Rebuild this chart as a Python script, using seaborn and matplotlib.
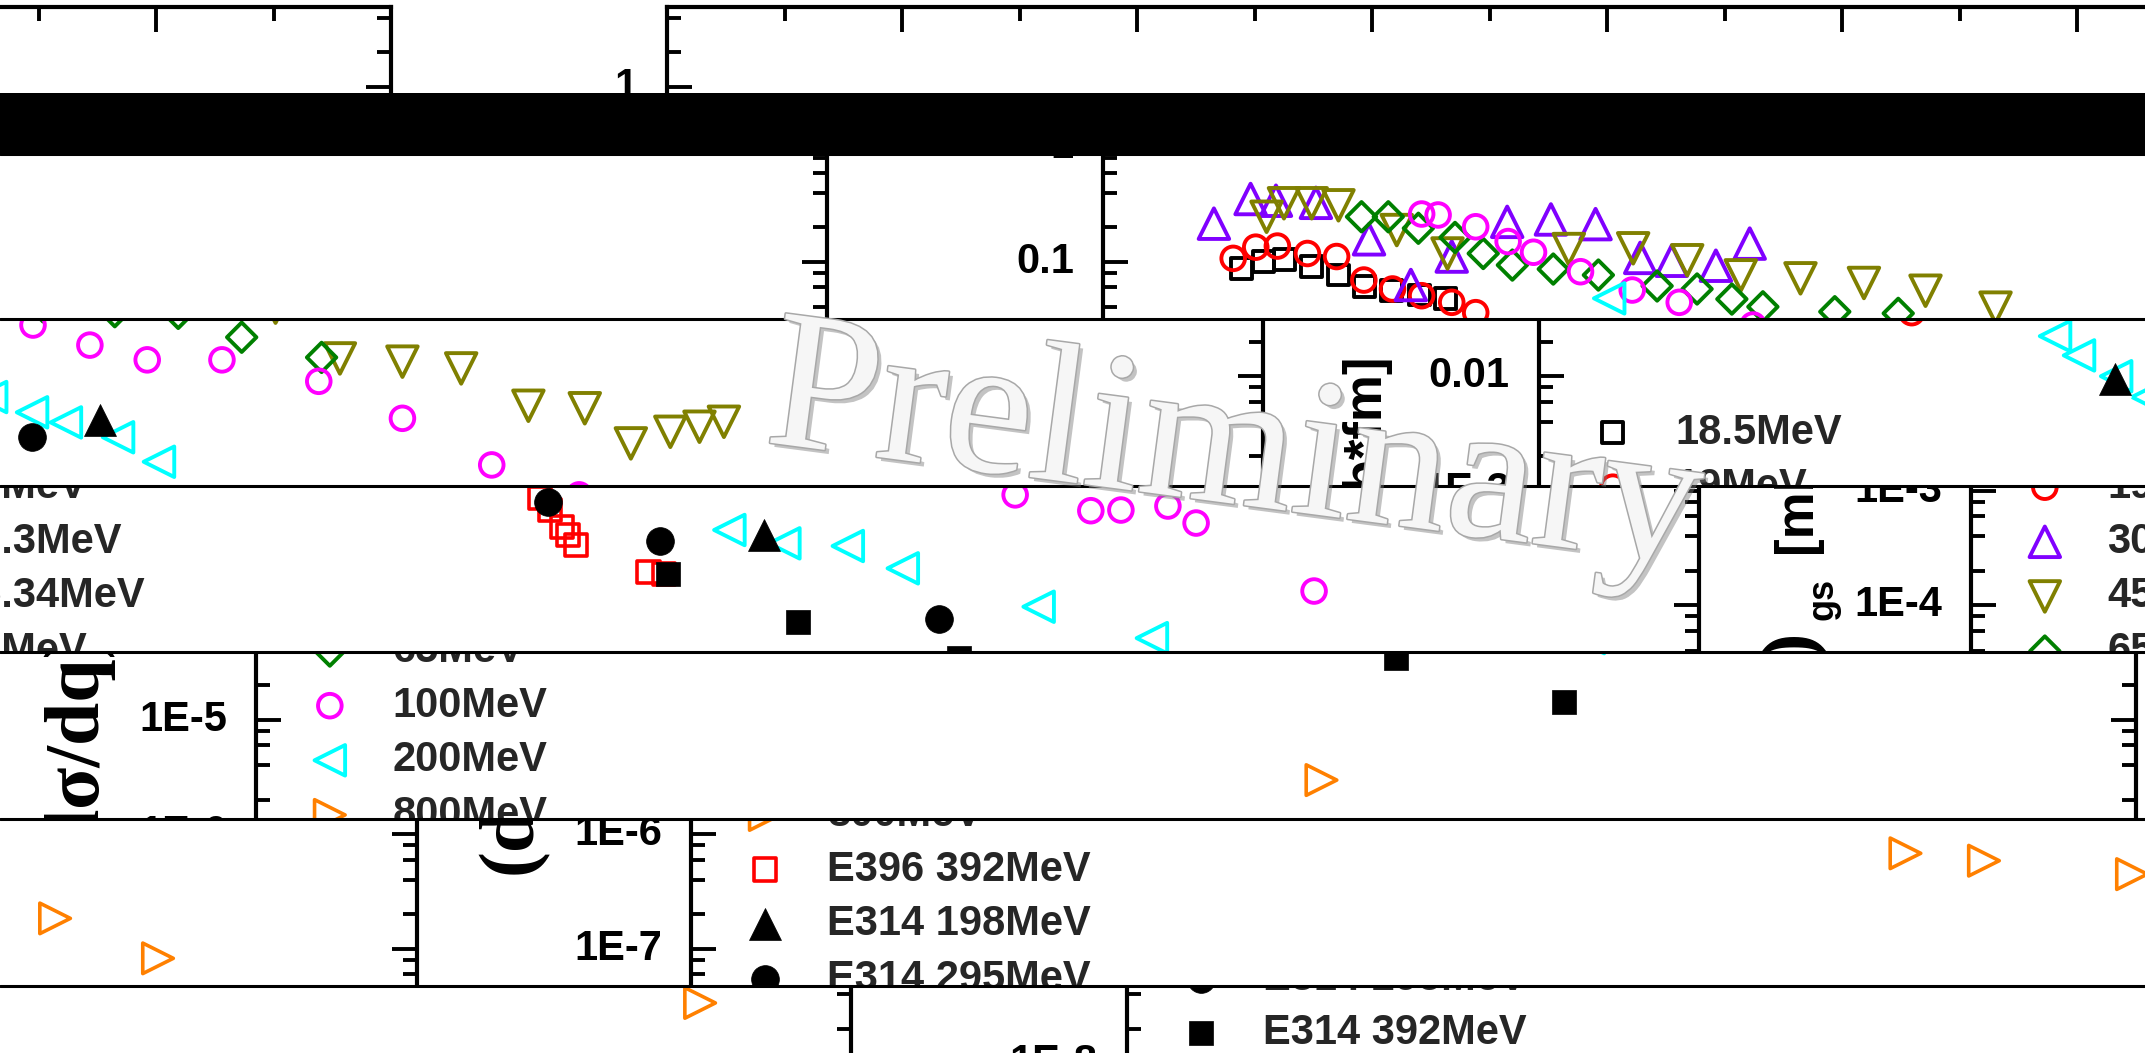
import numpy as np
import matplotlib
matplotlib.use("Agg")
import matplotlib.pyplot as plt
import seaborn as sns
from matplotlib.transforms import Bbox
from matplotlib.patches import Rectangle
from matplotlib.lines import Line2D
import matplotlib.patheffects as pe
from matplotlib.ticker import FixedLocator, FuncFormatter, NullFormatter
from matplotlib.font_manager import FontProperties

sns.set_theme(style="ticks")
plt.rcParams['font.family'] = ['Liberation Sans', 'DejaVu Sans']
plt.rcParams['font.weight'] = 'bold'

# ---------------- data (q in fm^-1, cross section in mb*fm) ----------------
labels = ["18.5MeV", "19MeV", "30.3MeV", "45.34MeV", "65MeV", "100MeV", "200MeV",
          "800MeV", "E396 392MeV", "E314 198MeV", "E314 295MeV", "E314 392MeV"]

q_18p5 = [0.295, 0.341, 0.387, 0.444, 0.501, 0.557, 0.614, 0.674, 0.728]
v_18p5 = [0.0876, 0.100, 0.105, 0.0904, 0.0765, 0.0605, 0.0558, 0.0512, 0.0479]

q_19 = [0.277, 0.325, 0.371, 0.435, 0.497, 0.555, 0.616, 0.678, 0.742, 0.793]
v_19 = [0.107, 0.134, 0.137, 0.118, 0.111, 0.0692, 0.0578, 0.0505, 0.0442, 0.0359]

q_30p3 = [0.236, 0.314, 0.368, 0.453, 0.566, 0.655, 0.742, 0.860, 0.953, 1.048,
          1.143, 1.210, 1.304, 1.376]
v_30p3 = [0.215, 0.353, 0.341, 0.327, 0.157, 0.0626, 0.111, 0.223, 0.234, 0.213,
          0.108, 0.102, 0.0923, 0.144]

q_45p34 = [0.348, 0.385, 0.444, 0.501, 0.625, 0.733, 0.991, 1.128, 1.243, 1.357,
           1.484, 1.619, 1.750, 1.899, 2.036, 2.169, 2.294, 2.437, 2.557, 2.655,
           2.739, 2.801, 2.853]
v_45p34 = [0.247, 0.324, 0.324, 0.311, 0.189, 0.118, 0.129, 0.131, 0.103, 0.0760,
           0.0716, 0.0652, 0.0558, 0.0397, 0.0143, 0.0134, 0.0117, 0.00552, 0.00525,
           0.00259, 0.00327, 0.00362, 0.00400]

q_65 = [0.550, 0.607, 0.671, 0.749, 0.809, 0.871, 0.958, 1.054, 1.179, 1.264,
        1.338, 1.404, 1.557, 1.692, 1.827, 1.997]
v_65 = [0.247, 0.247, 0.196, 0.163, 0.118, 0.0935, 0.0863, 0.0765, 0.0614, 0.0578,
        0.0472, 0.0404, 0.0366, 0.0354, 0.0219, 0.0146]

q_100 = [0.678, 0.713, 0.793, 0.862, 0.916, 1.016, 1.126, 1.226, 1.383, 1.504,
         1.626, 1.785, 1.991, 2.169, 2.359, 2.545, 2.706, 2.770, 2.870, 2.930, 3.181]
v_100 = [0.261, 0.256, 0.202, 0.150, 0.121, 0.0818, 0.0566, 0.0442, 0.0280, 0.0187,
         0.0139, 0.0139, 0.00903, 0.00429, 0.00168, 9.2e-4, 6.69e-4, 6.78e-4,
         7.35e-4, 5.22e-4, 1.33e-4]

q_200 = [1.077, 1.098, 1.149, 1.228, 1.294, 1.381, 1.453, 1.564, 1.651, 1.937,
         2.054, 2.189, 2.306, 2.595, 2.836]
v_200 = [0.0479, 0.0224, 0.0152, 0.0100, 0.00658, 0.00484, 0.00395, 0.00293,
         0.00179, 4.54e-4, 3.47e-4, 3.29e-4, 2.10e-4, 9.7e-5, 5.16e-5]

q_800 = [2.267, 2.584, 2.751, 3.066, 3.230, 3.449, 3.679]
v_800 = [2.97e-6, 6.81e-7, 5.87e-7, 4.48e-7, 1.84e-7, 8.24e-8, 3.36e-8]

q_e396_392 = [1.534, 1.555, 1.581, 1.594, 1.611, 1.765, 1.798]
v_e396_392 = [8.63e-4, 6.80e-4, 4.82e-4, 4.10e-4, 3.36e-4, 1.95e-4, 1.87e-4]

q_e314_198 = [1.226, 1.526, 2.011]
v_e314_198 = [9.45e-3, 4.14e-3, 4.10e-4]

q_e314_295 = [1.381, 1.551, 1.790, 2.384]
v_e314_295 = [2.93e-3, 7.96e-4, 3.66e-4, 7.62e-5]

q_e314_392 = [1.806, 2.084, 2.426, 2.782]
v_e314_392 = [1.87e-4, 7.18e-5, 3.46e-5, 1.42e-5]

series_q = [q_18p5, q_19, q_30p3, q_45p34, q_65, q_100, q_200, q_800,
            q_e396_392, q_e314_198, q_e314_295, q_e314_392]
series_v = [v_18p5, v_19, v_30p3, v_45p34, v_65, v_100, v_200, v_800,
            v_e396_392, v_e314_198, v_e314_295, v_e314_392]

y_major_values = [10.0 ** k for k in range(-9, 1)]
x_major_values = [0, 0.5, 1.0, 1.5, 2.0, 2.5, 3.0, 3.5, 4.0]

# ---------------- styles ----------------
styles = [
    dict(m='s', c='black', open=True, ms=15, lw=2.8),
    dict(m='o', c='#FF0000', open=True, ms=17, lw=2.8),
    dict(m='^', c='#8000FF', open=True, ms=22, lw=2.8),
    dict(m='v', c='#808000', open=True, ms=22, lw=2.8),
    dict(m='D', c='#008000', open=True, ms=15, lw=2.8),
    dict(m='o', c='#FF00FF', open=True, ms=17, lw=2.8),
    dict(m='<', c='#00FFFF', open=True, ms=22, lw=2.8),
    dict(m='>', c='#FF8000', open=True, ms=22, lw=2.6),
    dict(m='s', c='#FF0000', open=True, ms=16, lw=2.6),
    dict(m='^', c='black', open=False, ms=23, lw=0.5),
    dict(m='o', c='black', open=False, ms=20, lw=0.5),
    dict(m='s', c='black', open=False, ms=17, lw=0.5),
]

FIG_W, FIG_H = 2145, 1053
P_W = 1880.0                     # plot width in px
Y_TOP, Y_BOT = 67.2, 1177.7      # pixel rows of the y limits in the un-shifted chart
YMIN, YMAX = 1e-9, 5.0
XMIN, XMAX = 0.0, 4.0

# strips of the (glitched) picture: (row0, row1, left-axis x, wrap width, vertical shift)
strips = [
    (0, 93, 667, 2156, -60.5),
    (154, 319, 1103, 2156, 0),
    (319, 485.5, 1539, 2156, 0),
    (485.5, 652, 1971, 2152, 0),
    (652, 819, 256, 2156, 0),
    (819, 986, 691, 2154, 0),
    (986, 1053, 1127, 2156, 0),
]


def fx(rel):
    return rel / P_W


def fy(yo):
    return 1 - (yo - Y_TOP) / (Y_BOT - Y_TOP)


def ytick_fmt(v, pos):
    k = int(round(np.log10(v)))
    if k == 0:
        return "1"
    if k == -1:
        return "0.1"
    if k == -2:
        return "0.01"
    return f"1E{k}"


def draw_chart(ax):
    for lab, q, v, st in zip(labels, series_q, series_v, styles):
        kw = dict(x=q, y=v, marker=st['m'], s=st['ms'] ** 2, linewidth=st['lw'],
                  label=lab, ax=ax, legend=False, zorder=3, color=st['c'],
                  edgecolor=st['c'])
        if st['open']:
            kw['facecolor'] = 'none'
        sns.scatterplot(**kw)
    ax.set_yscale('log')
    ax.set_xlim(XMIN, XMAX)
    ax.set_ylim(YMIN, YMAX)
    ax.patch.set_visible(False)
    ax.xaxis.set_major_locator(FixedLocator(x_major_values))
    ax.xaxis.set_minor_locator(FixedLocator([x + 0.25 for x in x_major_values[:-1]]))
    ax.yaxis.set_major_locator(FixedLocator(y_major_values))
    ax.yaxis.set_minor_locator(FixedLocator(
        [f * y for y in y_major_values for f in (2, 4, 6, 8) if f * y < YMAX]))
    ax.yaxis.set_major_formatter(FuncFormatter(ytick_fmt))
    ax.yaxis.set_minor_formatter(NullFormatter())
    ax.xaxis.set_major_formatter(NullFormatter())
    ax.tick_params(which='both', direction='in', top=True, right=True, bottom=True,
                   left=True, labelbottom=False, width=2.8, color='black')
    ax.tick_params(which='major', length=18, pad=21, labelsize=30, labelcolor='black')
    ax.tick_params(which='minor', length=10)
    for sp in ax.spines.values():
        sp.set_linewidth(3)
        sp.set_color('black')
    # y axis title
    ax.text(fx(-160), fy(751), "(dσ/dq)", rotation=90, rotation_mode='anchor',
            ha='center', va='baseline', transform=ax.transAxes, fontsize=56,
            fontweight='bold', family=['Liberation Serif', 'DejaVu Serif'], color='black')
    ax.text(fx(-138), fy(599), "gs", rotation=90, rotation_mode='anchor',
            ha='center', va='baseline', transform=ax.transAxes, fontsize=26,
            fontweight='bold', color='black')
    ax.text(fx(-160), fy(453.5), "[mb*fm]", rotation=90, rotation_mode='anchor',
            ha='center', va='baseline', transform=ax.transAxes, fontsize=38,
            fontweight='bold', color='black')
    handles, labs = ax.get_legend_handles_labels()
    ax.legend(handles, labs, loc='upper left', bbox_to_anchor=(fx(53), fy(412.5)),
              frameon=False, borderpad=0, borderaxespad=0, handlelength=1.0,
              handletextpad=1.0, labelspacing=0.351, scatterpoints=1,
              prop=FontProperties(family='Liberation Sans', weight='bold', size=30))


fig = plt.figure(figsize=(FIG_W / 100, FIG_H / 100), dpi=100)
fig.patch.set_facecolor('white')

copies = []
for (r0, r1, L, W, v) in strips:
    for m in range(-2, 3):
        left = L + m * W
        bx0 = left - 258
        bx1 = bx0 + W
        if bx1 <= 0 or bx0 >= FIG_W:
            continue
        ax = fig.add_axes([left / FIG_W, 1 - (Y_BOT + v) / FIG_H,
                           P_W / FIG_W, (Y_BOT - Y_TOP) / FIG_H])
        draw_chart(ax)
        clip = Bbox.from_extents(max(0, bx0), FIG_H - r1, min(FIG_W, bx1), FIG_H - r0)
        copies.append((ax, clip))

# black band and strip seams
fig.add_artist(Rectangle((0, 1 - 154 / FIG_H), 1, 61 / FIG_H, transform=fig.transFigure,
                         facecolor='black', edgecolor='none', zorder=5))
for yb in [154, 319, 485.5, 652, 819, 986]:
    fig.add_artist(Line2D([0, 1], [1 - yb / FIG_H] * 2, transform=fig.transFigure,
                          color='black', linewidth=2.2, zorder=5))

# watermark
fig.text(1228 / FIG_W, 1 - 503 / FIG_H, "Preliminary", rotation=-7.5,
         rotation_mode='anchor', ha='center', va='baseline', fontsize=143,
         family=['Liberation Serif', 'DejaVu Serif'], fontweight='normal',
         color='#f6f6f6', zorder=10,
         path_effects=[pe.SimplePatchShadow(offset=(3, -3), shadow_rgbFace='#7a7a7a', alpha=0.45),
                       pe.Stroke(linewidth=2.2, foreground='#a8a8a8'),
                       pe.Normal()])

fig.canvas.draw()
for ax, clip in copies:
    for t in ax.yaxis.get_major_ticks():
        t.label1.set_verticalalignment('center')
    for art in ax.findobj():
        if art is ax:
            continue
        art.set_clip_box(clip)
        art.set_clip_on(True)

fig.savefig("out.png", dpi=100, facecolor='white')
